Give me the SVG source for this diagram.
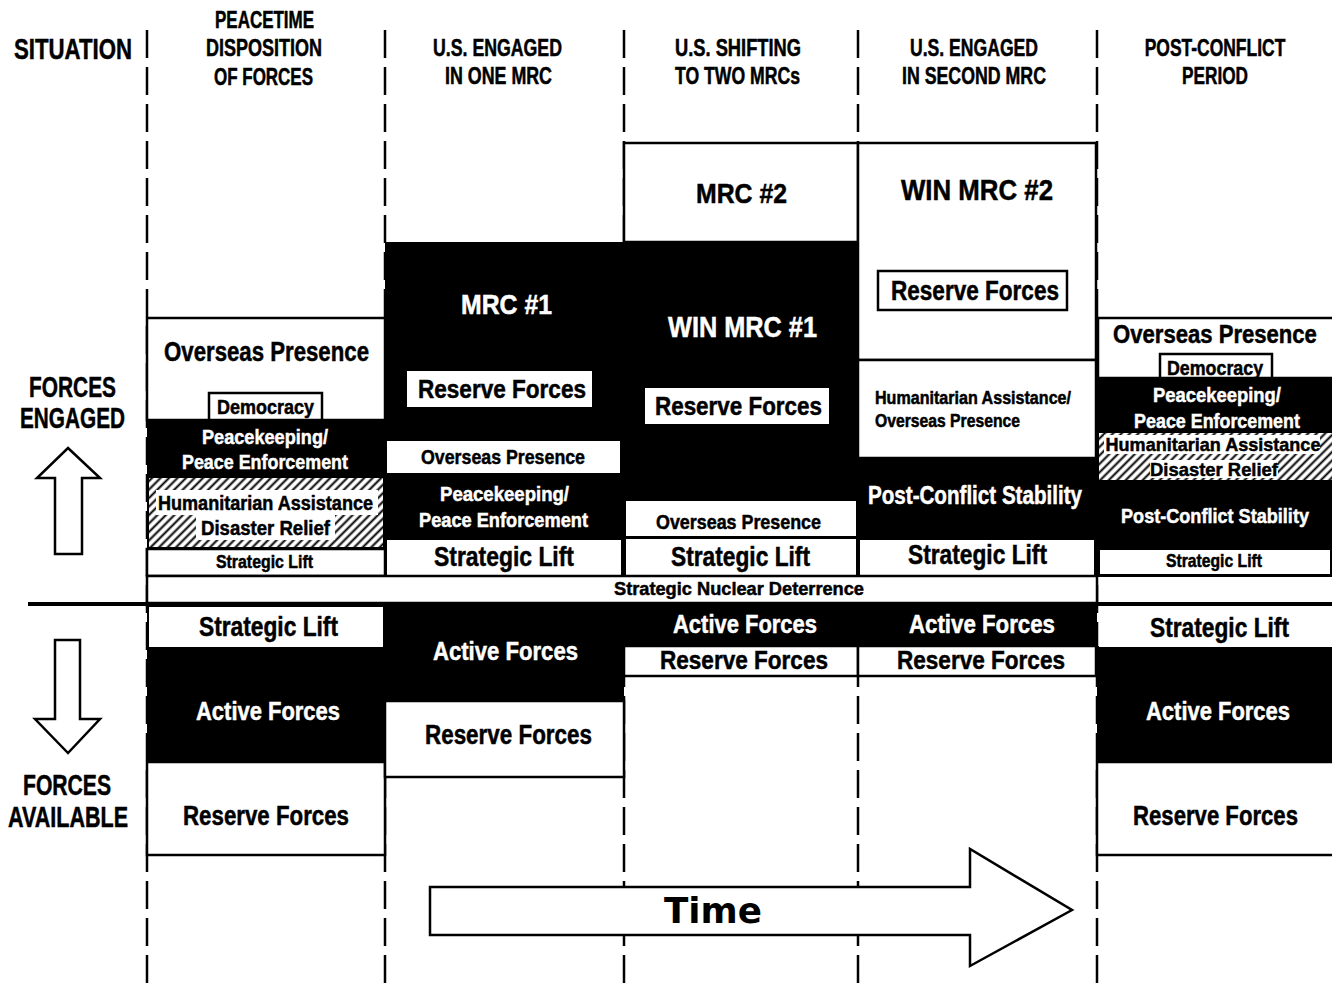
<svg xmlns="http://www.w3.org/2000/svg" width="1332" height="984" viewBox="0 0 1332 984">
<style>
.t{font-family:"Liberation Sans",Arial,sans-serif;font-weight:bold;text-anchor:middle;dominant-baseline:central;fill:#000;stroke:#000;stroke-width:0.5}
.l{text-anchor:start}
.wt{fill:#fff;stroke:#fff}
.bx{fill:#fff;stroke:#000;stroke-width:2.5}
.nb{fill:#fff}
.blk{fill:#000}
.hat{fill:url(#hatch);stroke:#000;stroke-width:2}
.dash{stroke:#000;stroke-width:2.5;stroke-dasharray:28 9;fill:none}
.arr{fill:#fff;stroke:#000;stroke-width:2.5;stroke-linejoin:miter}
</style>
<defs>
<pattern id="hatch" patternUnits="userSpaceOnUse" width="6" height="6" patternTransform="rotate(45)">
<rect width="6" height="6" fill="#fff"/>
<line x1="1.5" y1="0" x2="1.5" y2="6" stroke="#000" stroke-width="2"/>
</pattern>
</defs>
<rect width="1332" height="984" fill="#fff"/>

<g id="gridlines">
<line class="dash" x1="147" y1="30" x2="147" y2="984"/>
<line class="dash" x1="385" y1="30" x2="385" y2="984"/>
<line class="dash" x1="624" y1="30" x2="624" y2="984"/>
<line class="dash" x1="858" y1="30" x2="858" y2="984"/>
<line class="dash" x1="1097" y1="30" x2="1097" y2="984"/>
</g>

<g id="headers">
<text class="t" x="73" y="49" font-size="29" textLength="118" lengthAdjust="spacingAndGlyphs">SITUATION</text>
<text class="t" x="264.5" y="20" font-size="23" textLength="99" lengthAdjust="spacingAndGlyphs">PEACETIME</text>
<text class="t" x="264" y="48" font-size="23" textLength="116" lengthAdjust="spacingAndGlyphs">DISPOSITION</text>
<text class="t" x="263.5" y="77" font-size="23" textLength="99" lengthAdjust="spacingAndGlyphs">OF FORCES</text>
<text class="t" x="497.5" y="48" font-size="23" textLength="129" lengthAdjust="spacingAndGlyphs">U.S. ENGAGED</text>
<text class="t" x="498.5" y="76" font-size="23" textLength="107" lengthAdjust="spacingAndGlyphs">IN ONE MRC</text>
<text class="t" x="738" y="48" font-size="23" textLength="126" lengthAdjust="spacingAndGlyphs">U.S. SHIFTING</text>
<text class="t" x="737.5" y="76" font-size="23" textLength="125" lengthAdjust="spacingAndGlyphs">TO TWO MRCs</text>
<text class="t" x="974" y="48" font-size="23" textLength="128" lengthAdjust="spacingAndGlyphs">U.S. ENGAGED</text>
<text class="t" x="974" y="76" font-size="23" textLength="144" lengthAdjust="spacingAndGlyphs">IN SECOND MRC</text>
<text class="t" x="0" y="0" font-size="23" transform="translate(1215,48) scale(0.76,1)">POST-CONFLICT</text>
<text class="t" x="1215" y="76" font-size="23" textLength="66" lengthAdjust="spacingAndGlyphs">PERIOD</text>
</g>

<g id="axis-labels">
<text class="t" x="72.5" y="387" font-size="29" textLength="87" lengthAdjust="spacingAndGlyphs">FORCES</text>
<text class="t" x="72.5" y="418" font-size="29" textLength="105" lengthAdjust="spacingAndGlyphs">ENGAGED</text>
<polygon class="arr" points="68,448 100,478 82,478 82,554 55,554 55,478 37,478"/>
<line x1="28" y1="604" x2="1332" y2="604" stroke="#000" stroke-width="4"/>
<polygon class="arr" points="55,640 80,640 80,719 100,719 68,753 35,719 55,719"/>
<text class="t" x="67" y="785" font-size="29" textLength="88" lengthAdjust="spacingAndGlyphs">FORCES</text>
<text class="t" x="68" y="817" font-size="29" textLength="120" lengthAdjust="spacingAndGlyphs">AVAILABLE</text>
</g>

<g id="col1-engaged">
<rect class="bx" x="147" y="318" width="238" height="102"/>
<text class="t" x="266.5" y="352" font-size="27" textLength="205" lengthAdjust="spacingAndGlyphs">Overseas Presence</text>
<rect class="bx" x="209" y="393" width="113" height="27"/>
<text class="t" x="265.5" y="406" font-size="21" textLength="97" lengthAdjust="spacingAndGlyphs">Democracy</text>
<rect class="blk" x="147" y="420" width="238" height="57"/>
<text class="t wt" x="265" y="436" font-size="21" textLength="126" lengthAdjust="spacingAndGlyphs">Peacekeeping/</text>
<text class="t wt" x="265" y="461" font-size="21" textLength="166" lengthAdjust="spacingAndGlyphs">Peace Enforcement</text>
<rect class="hat" x="148" y="477" width="236" height="71"/>
<rect class="nb" x="156" y="490" width="222" height="25"/>
<rect class="nb" x="196" y="515" width="139" height="25"/>
<text class="t" x="265.5" y="503" font-size="20" textLength="215" lengthAdjust="spacingAndGlyphs">Humanitarian Assistance</text>
<text class="t" x="265.5" y="528" font-size="20" textLength="129" lengthAdjust="spacingAndGlyphs">Disaster Relief</text>
<rect class="bx" x="147" y="549" width="238" height="27"/>
<text class="t" x="264.5" y="562" font-size="18" textLength="97" lengthAdjust="spacingAndGlyphs">Strategic Lift</text>
</g>

<g id="col2-engaged">
<rect class="blk" x="385" y="242" width="239" height="334"/>
<text class="t wt" x="506.5" y="304" font-size="28" textLength="91" lengthAdjust="spacingAndGlyphs">MRC #1</text>
<rect class="nb" x="407" y="371" width="185" height="36"/>
<text class="t" x="502" y="389" font-size="26" textLength="168" lengthAdjust="spacingAndGlyphs">Reserve Forces</text>
<rect class="nb" x="387" y="441" width="233" height="32"/>
<text class="t" x="503" y="456" font-size="21" textLength="164" lengthAdjust="spacingAndGlyphs">Overseas Presence</text>
<text class="t wt" x="504.5" y="494" font-size="20" textLength="129" lengthAdjust="spacingAndGlyphs">Peacekeeping/</text>
<text class="t wt" x="503.5" y="520" font-size="20" textLength="169" lengthAdjust="spacingAndGlyphs">Peace Enforcement</text>
<rect class="nb" x="387" y="540" width="234" height="35"/>
<text class="t" x="504" y="557" font-size="27" textLength="140" lengthAdjust="spacingAndGlyphs">Strategic Lift</text>
</g>

<g id="col3-engaged">
<rect class="bx" x="624" y="143" width="234" height="99"/>
<text class="t" x="741.5" y="193" font-size="28" textLength="91" lengthAdjust="spacingAndGlyphs">MRC #2</text>
<rect class="blk" x="624" y="242" width="234" height="334"/>
<text class="t wt" x="742.5" y="327" font-size="29" textLength="149" lengthAdjust="spacingAndGlyphs">WIN MRC #1</text>
<rect class="nb" x="645" y="388" width="184" height="36"/>
<text class="t" x="738.5" y="406" font-size="26" textLength="167" lengthAdjust="spacingAndGlyphs">Reserve Forces</text>
<rect class="nb" x="626" y="501" width="230" height="35"/>
<text class="t" x="738.5" y="521" font-size="21" textLength="165" lengthAdjust="spacingAndGlyphs">Overseas Presence</text>
<rect class="nb" x="626" y="539" width="230" height="36"/>
<text class="t" x="740.5" y="557" font-size="27" textLength="139" lengthAdjust="spacingAndGlyphs">Strategic Lift</text>
</g>

<g id="col4-engaged">
<rect class="bx" x="858" y="143" width="238" height="217"/>
<text class="t" x="977" y="190" font-size="29" textLength="152" lengthAdjust="spacingAndGlyphs">WIN MRC #2</text>
<rect class="bx" x="878" y="271" width="189" height="39" stroke-width="3"/>
<text class="t" x="975" y="291" font-size="27" textLength="168" lengthAdjust="spacingAndGlyphs">Reserve Forces</text>
<rect class="bx" x="858" y="360" width="238" height="98"/>
<text class="t l" x="875" y="398" font-size="18" textLength="196" lengthAdjust="spacingAndGlyphs">Humanitarian Assistance/</text>
<text class="t l" x="875" y="421" font-size="18" textLength="145" lengthAdjust="spacingAndGlyphs">Overseas Presence</text>
<rect class="blk" x="858" y="458" width="239" height="118"/>
<text class="t wt" x="975" y="495" font-size="25" textLength="214" lengthAdjust="spacingAndGlyphs">Post-Conflict Stability</text>
<rect class="nb" x="860" y="540" width="234" height="35"/>
<text class="t" x="977.5" y="555" font-size="27" textLength="139" lengthAdjust="spacingAndGlyphs">Strategic Lift</text>
</g>

<g id="col5-engaged">
<rect class="bx" x="1098" y="318" width="236" height="60"/>
<text class="t" x="0" y="0" font-size="26" transform="translate(1215,334) scale(0.85,1)">Overseas Presence</text>
<rect class="bx" x="1160" y="354" width="112" height="24"/>
<text class="t" x="0" y="0" font-size="21" transform="translate(1215,367) scale(0.85,1)">Democracy</text>
<rect class="blk" x="1097" y="378" width="235" height="54"/>
<text class="t wt" x="0" y="0" font-size="21" transform="translate(1217,395) scale(0.877,1)">Peacekeeping/</text>
<text class="t wt" x="0" y="0" font-size="21" transform="translate(1217,420) scale(0.851,1)">Peace Enforcement</text>
<rect class="hat" x="1098" y="432" width="236" height="49"/>
<rect class="nb" x="1104" y="435" width="216" height="19"/>
<rect class="nb" x="1150" y="460" width="128" height="18"/>
<text class="t" x="0" y="0" font-size="19" transform="translate(1213,444) scale(0.95,1)">Humanitarian Assistance</text>
<text class="t" x="0" y="0" font-size="19" transform="translate(1214,469) scale(0.97,1)">Disaster Relief</text>
<rect class="blk" x="1097" y="481" width="235" height="96"/>
<text class="t wt" x="0" y="0" font-size="21" transform="translate(1215,516) scale(0.862,1)">Post-Conflict Stability</text>
<rect class="nb" x="1100" y="550" width="230" height="24"/>
<text class="t" x="0" y="0" font-size="18" transform="translate(1214,561) scale(0.873,1)">Strategic Lift</text>
</g>

<g id="nuclear">
<rect class="bx" x="147" y="576" width="950" height="27"/>
<text class="t" x="739" y="588" font-size="19" textLength="250" lengthAdjust="spacingAndGlyphs">Strategic Nuclear Deterrence</text>
</g>

<g id="available">
<rect class="blk" x="147" y="603" width="950" height="43"/>
<rect class="blk" x="385" y="603" width="239" height="98"/>
<rect class="blk" x="147" y="646" width="238" height="116"/>
<rect class="nb" x="149" y="607" width="234" height="40"/>
<text class="t" x="268.5" y="626" font-size="28" textLength="139" lengthAdjust="spacingAndGlyphs">Strategic Lift</text>
<text class="t wt" x="268" y="711" font-size="26" textLength="144" lengthAdjust="spacingAndGlyphs">Active Forces</text>
<rect class="bx" x="147" y="762" width="238" height="93"/>
<text class="t" x="266" y="816" font-size="27" textLength="166" lengthAdjust="spacingAndGlyphs">Reserve Forces</text>
<text class="t wt" x="505.5" y="651" font-size="26" textLength="145" lengthAdjust="spacingAndGlyphs">Active Forces</text>
<rect class="bx" x="385" y="701" width="239" height="76"/>
<text class="t" x="508.5" y="735" font-size="27" textLength="167" lengthAdjust="spacingAndGlyphs">Reserve Forces</text>
<text class="t wt" x="745" y="624" font-size="26" textLength="144" lengthAdjust="spacingAndGlyphs">Active Forces</text>
<rect class="bx" x="624" y="646" width="234" height="30"/>
<text class="t" x="744" y="660" font-size="26" textLength="168" lengthAdjust="spacingAndGlyphs">Reserve Forces</text>
<text class="t wt" x="982" y="624" font-size="26" textLength="146" lengthAdjust="spacingAndGlyphs">Active Forces</text>
<rect class="bx" x="858" y="646" width="238" height="30"/>
<text class="t" x="981" y="660" font-size="26" textLength="168" lengthAdjust="spacingAndGlyphs">Reserve Forces</text>
<rect class="blk" x="1097" y="646" width="235" height="116"/>
<rect class="nb" x="1099" y="607" width="233" height="40"/>
<text class="t" x="0" y="0" font-size="28" transform="translate(1219.5,627) scale(0.812,1)">Strategic Lift</text>
<text class="t wt" x="0" y="0" font-size="26" transform="translate(1218,711) scale(0.845,1)">Active Forces</text>
<rect class="bx" x="1097" y="762" width="237" height="93"/>
<text class="t" x="0" y="0" font-size="28" transform="translate(1215.5,815) scale(0.791,1)">Reserve Forces</text>
</g>

<g id="time-arrow">
<polygon class="arr" points="430,887 970,887 970,849 1072,910 970,966 970,935 430,935"/>
<text x="713" y="910" font-family="'DejaVu Sans',Verdana,sans-serif" font-weight="bold" font-size="36" text-anchor="middle" dominant-baseline="central" textLength="98" lengthAdjust="spacingAndGlyphs">Time</text>
</g>
</svg>
